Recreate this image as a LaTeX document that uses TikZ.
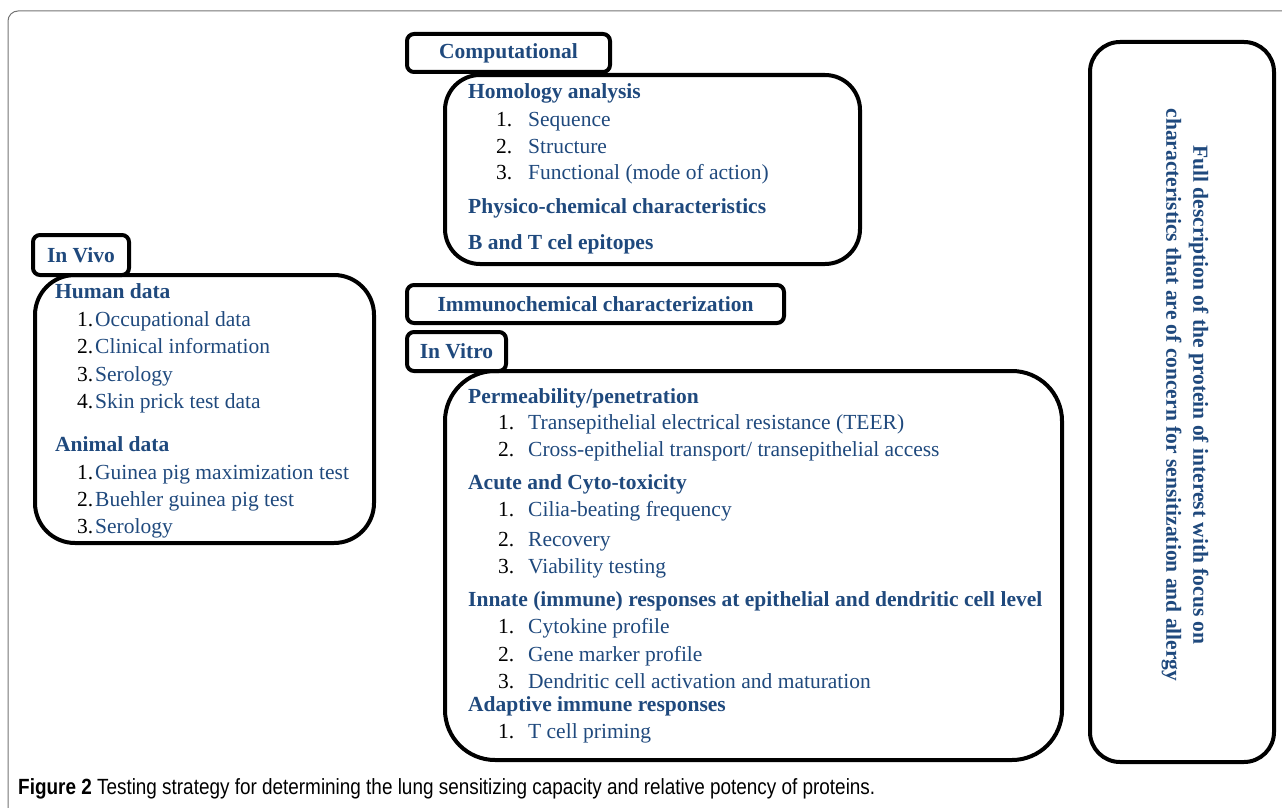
\documentclass[tikz,border=0pt]{standalone}
\usepackage{fontspec}
\setmainfont{Liberation Serif}
\newfontfamily\capfont{Liberation Sans}
\usepackage{tikz}
\usetikzlibrary{%
  calc,positioning}
\definecolor{txtblue}{HTML}{1F497D}
\definecolor{framegray}{gray}{0.45}
\newcommand{\bodysize}{\fontsize{21.5}{26}\selectfont}
\newcommand{\numbox}[2]{\makebox[#1][l]{\color{black}#2}}
\tikzset {
  panel/.style={draw, line width=4pt, rounded corners=#1,
    anchor=north west, inner sep=0pt},
  panel/.default=35pt,
  tabbox/.style={draw, line width=4pt, rounded corners=7pt,
    anchor=north west, inner sep=0pt, text=txtblue,
    font=\bodysize\bfseries},
  head/.style={anchor=base west, inner sep=0pt, text=txtblue,
    font=\bodysize\bfseries},
  item/.style={anchor=base west, inner sep=0pt, text=txtblue,
    font=\bodysize}
}

\begin{document}
\begin{tikzpicture}[x=1pt,y=-1pt]
\useasboundingbox (0,0) rectangle (1282,808);
\draw[framegray, line width=1pt, rounded corners=10pt]
  (1295,11) -- (8,11) -- (8,820);

% boxes
\node[panel=35pt, minimum width=415pt, minimum height=189pt] (compBox) at (443,73) {};
\node[panel=40pt, minimum width=339pt, minimum height=268pt] (vivoBox) at (33,273) {};
\node[panel=50pt, minimum width=617pt, minimum height=389pt] (vitroBox) at (443,369) {};
\node[panel=30pt, minimum width=184pt, minimum height=720pt] (fullBox) at (1088,40) {};

% tabs
\node[tabbox, minimum width=203pt, minimum height=38pt] (compTab) at (405,32) {};
\node at (compTab.center) {\textcolor{txtblue}{\bodysize\bfseries Computational}};
\node[tabbox, minimum width=96pt, minimum height=40pt] (vivoTab) at (31,233) {};
\node at (vivoTab.center) {\textcolor{txtblue}{\bodysize\bfseries In Vivo}};
\node[tabbox, minimum width=377pt, minimum height=38pt] (immTab) at (405,283) {};
\node at (immTab.center) {\textcolor{txtblue}{\bodysize\bfseries Immunochemical characterization}};
\node[tabbox, minimum width=99pt, minimum height=39pt] (vitroTab) at (405,330) {};
\node at (vitroTab.center) {\textcolor{txtblue}{\bodysize\bfseries In Vitro}};

% computational
\node[head] (homHead) at (468,99) {Homology analysis};
\node[item] (seqItem) at (496,126) {\numbox{32pt}{1.}Sequence};
\node[item] (strItem) at (496,153) {\numbox{32pt}{2.}Structure};
\node[item] (funItem) at (496,179) {\numbox{32pt}{3.}Functional (mode of action)};
\node[head] (phyHead) at (468,213) {Physico-chemical characteristics};
\node[head] (epiHead) at (468,249) {B and T cel epitopes};

% in vivo
\node[head] (humHead) at (55,298) {Human data};
\node[item] (occItem) at (77,326) {\numbox{18pt}{1.}Occupational data};
\node[item] (cliItem) at (77,353) {\numbox{18pt}{2.}Clinical information};
\node[item] (serItem) at (77,381) {\numbox{18pt}{3.}Serology};
\node[item] (skiItem) at (77,408) {\numbox{18pt}{4.}Skin prick test data};
\node[head] (aniHead) at (55,451) {Animal data};
\node[item] (guiItem) at (77,479) {\numbox{18pt}{1.}Guinea pig maximization test};
\node[item] (bueItem) at (77,506) {\numbox{18pt}{2.}Buehler guinea pig test};
\node[item] (aseItem) at (77,533) {\numbox{18pt}{3.}Serology};

% in vitro
\node[head] (perHead) at (468,403) {Permeability/penetration};
\node[item] (teeItem) at (498,429) {\numbox{30pt}{1.}Transepithelial electrical resistance (TEER)};
\node[item] (croItem) at (498,456) {\numbox{30pt}{2.}Cross-epithelial transport/ transepithelial access};
\node[head] (acuHead) at (468,489) {Acute and Cyto-toxicity};
\node[item] (cilItem) at (498,516) {\numbox{30pt}{1.}Cilia-beating frequency};
\node[item] (recItem) at (498,546) {\numbox{30pt}{2.}Recovery};
\node[item] (viaItem) at (498,573) {\numbox{30pt}{3.}Viability testing};
\node[head] (innHead) at (468,606) {Innate (immune) responses at epithelial and dendritic cell level};
\node[item] (cytItem) at (498,633) {\numbox{30pt}{1.}Cytokine profile};
\node[item] (genItem) at (498,661) {\numbox{30pt}{2.}Gene marker profile};
\node[item] (denItem) at (498,688) {\numbox{30pt}{3.}Dendritic cell activation and maturation};
\node[head] (adaHead) at (468,711) {Adaptive immune responses};
\node[item] (priItem) at (498,738) {\numbox{30pt}{1.}T cell priming};

% side text
\node[rotate=-90, align=center, text=txtblue, font=\fontsize{21.5}{27}\selectfont\bfseries]
  (fullText) at (1185,395) {Full description of the protein of interest with focus on\\
  characteristics that are of concern for sensitization and allergy};

% caption
\node[anchor=base west, inner sep=0pt] (figCap) at (18,794)
  {\scalebox{0.86}[1]{\capfont\fontsize{22}{24}\selectfont\textbf{Figure 2} Testing strategy
  for determining the lung sensitizing capacity and relative potency of proteins.}};
\end{tikzpicture}
\end{document}
